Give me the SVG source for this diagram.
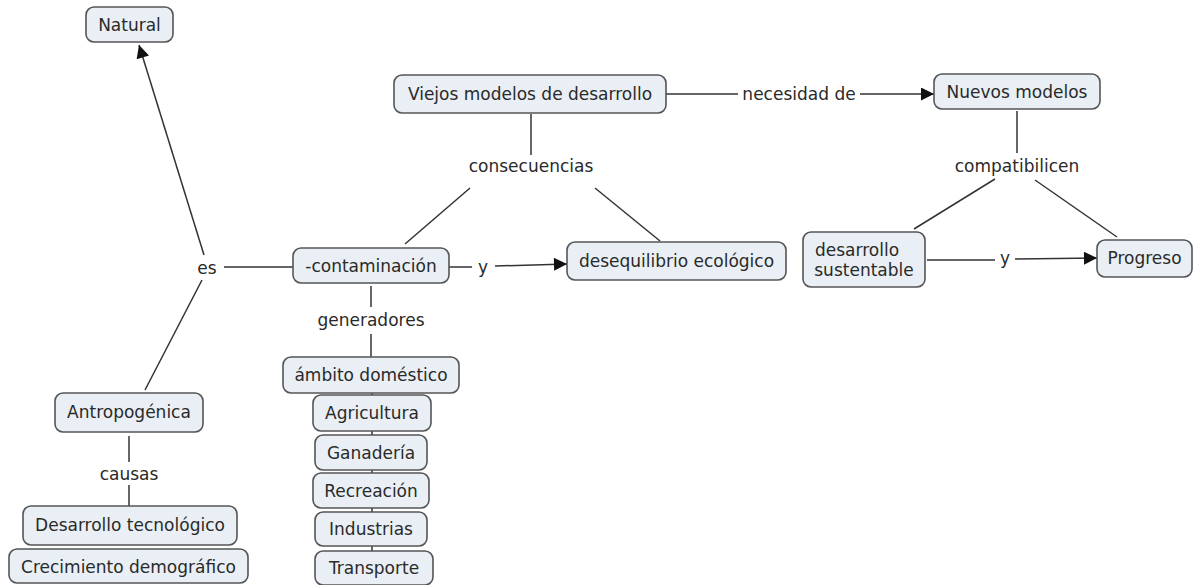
<svg xmlns="http://www.w3.org/2000/svg" width="1194" height="585" viewBox="0 0 1194 585">
<style>
.n rect{fill:#e9eff4;stroke:#555;stroke-width:1.6}
text{font-family:"DejaVu Sans","Liberation Sans",sans-serif;font-size:17px;fill:#2a2a2a;text-anchor:middle;dominant-baseline:central}
.c line,.c path{stroke:#333;stroke-width:1.5;fill:none}
</style>
<defs>
<marker id="ah" viewBox="0 0 10 10" refX="10" refY="5" markerWidth="17" markerHeight="13" markerUnits="userSpaceOnUse" orient="auto">
<path d="M0,0 L10,5 L0,10 z" fill="#111"/>
</marker>
</defs>
<rect width="1194" height="585" fill="#fff"/>
<g class="c" id="connectors">
<line x1="204" y1="255" x2="139" y2="45" marker-end="url(#ah)"/>
<line x1="224" y1="267" x2="293" y2="267"/>
<line x1="202" y1="280" x2="145" y2="390"/>
<line x1="449" y1="267" x2="472" y2="267"/>
<line x1="495" y1="266" x2="567" y2="264" marker-end="url(#ah)"/>
<line x1="531" y1="114" x2="531" y2="155"/>
<line x1="470" y1="188" x2="405" y2="244"/>
<line x1="595" y1="188" x2="660" y2="241"/>
<line x1="666" y1="94" x2="738" y2="94"/>
<line x1="860" y1="94" x2="934" y2="94" marker-end="url(#ah)"/>
<line x1="1017" y1="111" x2="1017" y2="153"/>
<line x1="995" y1="179" x2="914" y2="229"/>
<line x1="1035" y1="180" x2="1117" y2="237"/>
<line x1="927" y1="260" x2="995" y2="260"/>
<line x1="1015" y1="259" x2="1097" y2="258" marker-end="url(#ah)"/>
<line x1="371" y1="286" x2="371" y2="307"/>
<line x1="371" y1="334" x2="371" y2="357"/>
<line x1="372" y1="393" x2="372" y2="551"/>
<line x1="129" y1="436" x2="129" y2="462"/>
<line x1="129" y1="485" x2="129" y2="506"/>
</g>
<g id="labels">
<text x="207" y="268">es</text>
<text x="483" y="267">y</text>
<text x="531" y="166">consecuencias</text>
<text x="799" y="94">necesidad de</text>
<text x="1017" y="166">compatibilicen</text>
<text x="1005" y="258">y</text>
<text x="371" y="320">generadores</text>
<text x="129" y="474">causas</text>
</g>
<g class="n" id="n-natural"><rect x="86" y="7" width="87" height="35" rx="8"/><text x="129.5" y="25">Natural</text></g>
<g class="n" id="n-viejos"><rect x="394" y="75" width="272" height="38" rx="8"/><text x="530" y="94">Viejos modelos de desarrollo</text></g>
<g class="n" id="n-nuevos"><rect x="934" y="74" width="166" height="35" rx="8"/><text x="1017" y="92">Nuevos modelos</text></g>
<g class="n" id="n-contaminacion"><rect x="293" y="248" width="156" height="35" rx="8"/><text x="371" y="266">-contaminación</text></g>
<g class="n" id="n-desequilibrio"><rect x="567" y="242" width="219" height="38" rx="8"/><text x="676.5" y="261">desequilibrio ecológico</text></g>
<g class="n" id="n-sustentable"><rect x="803" y="232" width="122" height="55" rx="8"/><text x="857" y="250">desarrollo</text><text x="864" y="270">sustentable</text></g>
<g class="n" id="n-progreso"><rect x="1097" y="240" width="95" height="37" rx="8"/><text x="1144.5" y="258">Progreso</text></g>
<g class="n" id="n-ambito"><rect x="283" y="357" width="176" height="36" rx="8"/><text x="371" y="375">ámbito doméstico</text></g>
<g class="n" id="n-agricultura"><rect x="313" y="395" width="118" height="36" rx="8"/><text x="372" y="413">Agricultura</text></g>
<g class="n" id="n-ganaderia"><rect x="315" y="435" width="112" height="35" rx="8"/><text x="371" y="453">Ganadería</text></g>
<g class="n" id="n-recreacion"><rect x="313" y="473" width="116" height="35" rx="8"/><text x="371" y="491">Recreación</text></g>
<g class="n" id="n-industrias"><rect x="315" y="512" width="112" height="34" rx="8"/><text x="371" y="529">Industrias</text></g>
<g class="n" id="n-transporte"><rect x="315" y="551" width="118" height="34" rx="8"/><text x="374" y="568">Transporte</text></g>
<g class="n" id="n-antropogenica"><rect x="55" y="393" width="148" height="39" rx="8"/><text x="129" y="412">Antropogénica</text></g>
<g class="n" id="n-desarrollo-tec"><rect x="23" y="506" width="214" height="39" rx="8"/><text x="130" y="525">Desarrollo tecnológico</text></g>
<g class="n" id="n-crecimiento"><rect x="9" y="549" width="239" height="34" rx="8"/><text x="128.5" y="567">Crecimiento demográfico</text></g>
</svg>
